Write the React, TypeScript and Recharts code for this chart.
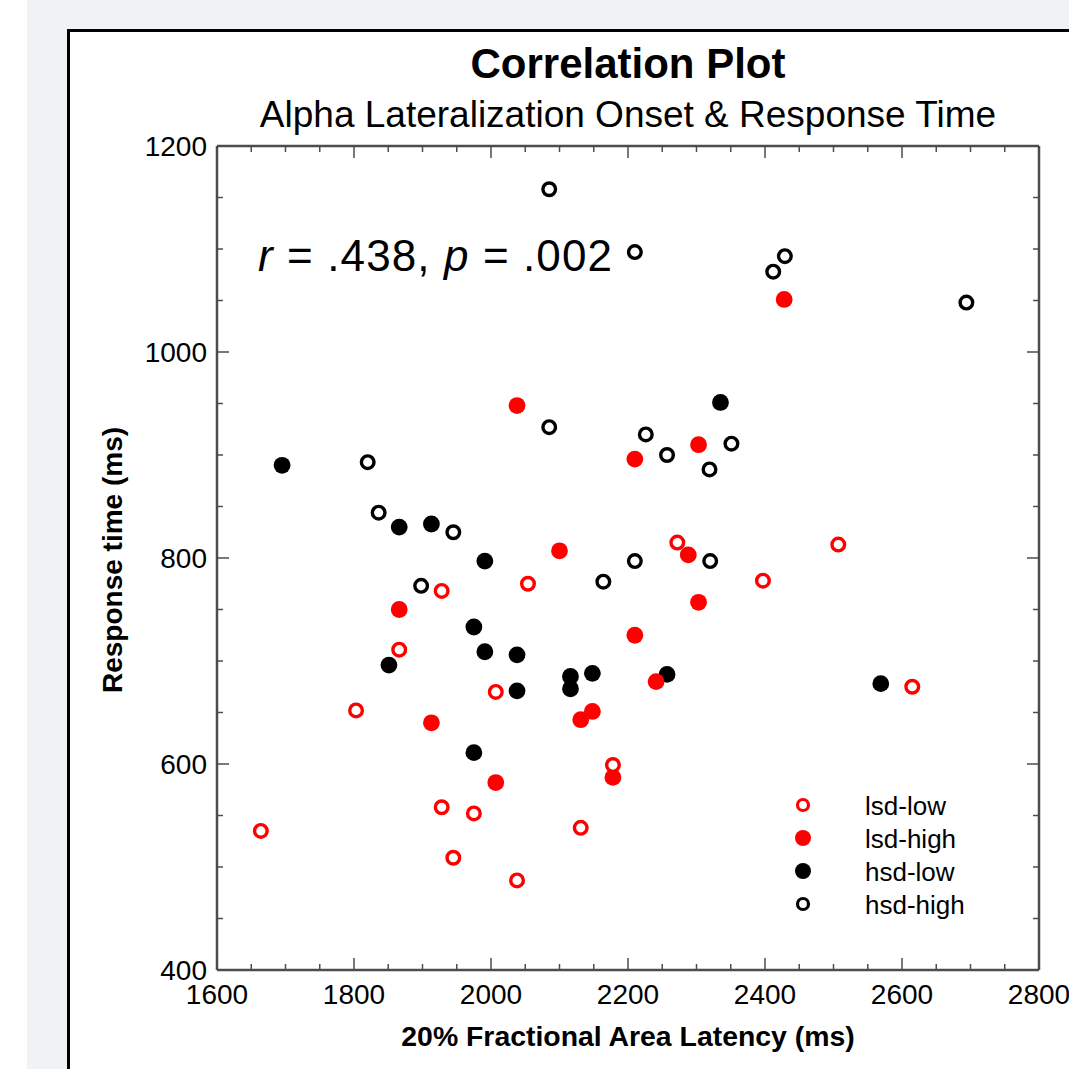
import React from "react";
import { ScatterChart, Scatter, XAxis, YAxis, Legend } from "recharts";

const lsdLow = [
  { x: 1664, y: 535 }, { x: 1803, y: 652 }, { x: 1866, y: 711 }, { x: 1928, y: 768 },
  { x: 1928, y: 558 }, { x: 1945, y: 509 }, { x: 1975, y: 552 }, { x: 2007, y: 670 },
  { x: 2038, y: 487 }, { x: 2054, y: 775 }, { x: 2131, y: 538 }, { x: 2178, y: 599 },
  { x: 2272, y: 815 }, { x: 2397, y: 778 }, { x: 2507, y: 813 }, { x: 2615, y: 675 },
];
const lsdHigh = [
  { x: 2428, y: 1051 }, { x: 2038, y: 948 }, { x: 2210, y: 896 }, { x: 2303, y: 910 },
  { x: 2100, y: 807 }, { x: 2288, y: 803 }, { x: 2303, y: 757 }, { x: 1866, y: 750 },
  { x: 2210, y: 725 }, { x: 2241, y: 680 }, { x: 1913, y: 640 }, { x: 2131, y: 643 },
  { x: 2148, y: 651 }, { x: 2007, y: 582 }, { x: 2178, y: 587 },
];
const hsdLow = [
  { x: 1695, y: 890 }, { x: 1866, y: 830 }, { x: 1913, y: 833 }, { x: 2335, y: 951 },
  { x: 1991, y: 797 }, { x: 1975, y: 733 }, { x: 1991, y: 709 }, { x: 2038, y: 706 },
  { x: 1851, y: 696 }, { x: 2116, y: 685 }, { x: 2116, y: 673 }, { x: 2148, y: 688 },
  { x: 2038, y: 671 }, { x: 2257, y: 687 }, { x: 1975, y: 611 }, { x: 2569, y: 678 },
];
const hsdHigh = [
  { x: 2085, y: 1158 }, { x: 2210, y: 1097 }, { x: 2412, y: 1078 }, { x: 2429, y: 1093 },
  { x: 2694, y: 1048 }, { x: 2085, y: 927 }, { x: 2226, y: 920 }, { x: 2257, y: 900 },
  { x: 2351, y: 911 }, { x: 2319, y: 886 }, { x: 1820, y: 893 }, { x: 1836, y: 844 },
  { x: 1945, y: 825 }, { x: 1898, y: 773 }, { x: 2164, y: 777 }, { x: 2210, y: 797 },
  { x: 2320, y: 797 },
];

const xTicks = [1600, 1650, 1700, 1750, 1800, 1850, 1900, 1950, 2000, 2050, 2100, 2150, 2200,
  2250, 2300, 2350, 2400, 2450, 2500, 2550, 2600, 2650, 2700, 2750, 2800];
const yTicks = [400, 450, 500, 550, 600, 650, 700, 750, 800, 850, 900, 950, 1000, 1050, 1100, 1150, 1200];
const xMajor = [1600, 1800, 2000, 2200, 2400, 2600, 2800];
const yMajor = [400, 600, 800, 1000, 1200];

const legendOrder = [
  { name: "lsd-low", color: "#ff0000", open: true },
  { name: "lsd-high", color: "#ff0000", open: false },
  { name: "hsd-low", color: "#000000", open: false },
  { name: "hsd-high", color: "#000000", open: true },
];

const FONT = "'Liberation Sans', Arial, sans-serif";
const FRAME = "#4d4d4d";

const openShape = (color: string) => (p: any) =>
  <circle cx={p.cx} cy={p.cy} r={6.3} fill="#ffffff" stroke={color} strokeWidth={3.4} />;
const filledShape = (color: string) => (p: any) =>
  <circle cx={p.cx} cy={p.cy} r={8.4} fill={color} />;

const BottomTick = (p: any) => {
  const v = p.payload.value;
  const major = xMajor.includes(v);
  return (
    <g>
      <line x1={p.x} y1={p.y} x2={p.x} y2={p.y - (major ? 12 : 6)} stroke={FRAME} strokeWidth={1.5} />
      {major && (
        <text x={p.x} y={p.y + 34} textAnchor="middle" fontSize={28} fontFamily={FONT} fill="#000">{v}</text>
      )}
    </g>
  );
};
const TopTick = (p: any) => {
  const major = xMajor.includes(p.payload.value);
  return <line x1={p.x} y1={p.y} x2={p.x} y2={p.y + (major ? 12 : 6)} stroke={FRAME} strokeWidth={1.5} />;
};
const LeftTick = (p: any) => {
  const v = p.payload.value;
  const major = yMajor.includes(v);
  return (
    <g>
      <line x1={p.x} y1={p.y} x2={p.x + (major ? 12 : 6)} y2={p.y} stroke={FRAME} strokeWidth={1.5} />
      {major && (
        <text x={p.x - 10} y={p.y + 10} textAnchor="end" fontSize={28} fontFamily={FONT} fill="#000">{v}</text>
      )}
    </g>
  );
};
const RightTick = (p: any) => {
  const major = yMajor.includes(p.payload.value);
  return <line x1={p.x} y1={p.y} x2={p.x - (major ? 12 : 6)} y2={p.y} stroke={FRAME} strokeWidth={1.5} />;
};

const LegendContent = () => (
  <svg width={220} height={140} style={{ display: "block" }}>
    {legendOrder.map((s, i) => {
      const cy = 17 + i * 33;
      return (
        <g key={s.name}>
          {s.open ? (
            <circle cx={13} cy={cy} r={5.5} fill="#fff" stroke={s.color} strokeWidth={3.2} />
          ) : (
            <circle cx={13} cy={cy} r={8} fill={s.color} />
          )}
          <text x={75} y={cy + 10} fontSize={26} fontFamily={FONT} fill="#000">{s.name}</text>
        </g>
      );
    })}
  </svg>
);

export default function App() {
  return (
    <div style={{ position: "absolute", left: 0, top: 0, width: 1069, height: 1069, background: "#ffffff", overflow: "hidden" }}>
      <div style={{ position: "absolute", left: 27, top: 0, width: 1042, height: 1069, background: "#f1f2f4" }} />
      <div style={{ position: "absolute", left: 67, top: 29, width: 1100, height: 1100, background: "#ffffff", border: "3px solid #000", boxSizing: "border-box" }} />
      <div style={{ position: "absolute", left: 0, top: 0 }}>
        <ScatterChart width={1069} height={1069} margin={{ top: 145, right: 29, bottom: 39, left: 157 }}>
          <XAxis xAxisId="b" type="number" dataKey="x" domain={[1600, 2800]} ticks={xTicks} interval={0}
            tickSize={0} tickMargin={0} height={60} allowDataOverflow
            axisLine={{ stroke: FRAME, strokeWidth: 2.5 }} tickLine={false} tick={BottomTick} />
          <XAxis xAxisId="t" orientation="top" type="number" dataKey="x" domain={[1600, 2800]} ticks={xTicks} interval={0}
            tickSize={0} tickMargin={0} height={1} allowDataOverflow
            axisLine={{ stroke: FRAME, strokeWidth: 2.5 }} tickLine={false} tick={TopTick} />
          <YAxis yAxisId="l" type="number" dataKey="y" domain={[400, 1200]} ticks={yTicks} interval={0}
            tickSize={0} tickMargin={0} width={60} allowDataOverflow
            axisLine={{ stroke: FRAME, strokeWidth: 2.5 }} tickLine={false} tick={LeftTick} />
          <YAxis yAxisId="r" orientation="right" type="number" dataKey="y" domain={[400, 1200]} ticks={yTicks} interval={0}
            tickSize={0} tickMargin={0} width={1} allowDataOverflow
            axisLine={{ stroke: FRAME, strokeWidth: 2.5 }} tickLine={false} tick={RightTick} />
          <Scatter name="frame" data={hsdHigh} xAxisId="t" yAxisId="r" shape={(p: any) => <circle cx={p.cx} cy={p.cy} r={0} fill="none" />} legendType="none" isAnimationActive={false} />
          <Scatter name="hsd-low" data={hsdLow} xAxisId="b" yAxisId="l" shape={filledShape("#000000")} isAnimationActive={false} />
          <Scatter name="lsd-high" data={lsdHigh} xAxisId="b" yAxisId="l" shape={filledShape("#ff0000")} isAnimationActive={false} />
          <Scatter name="lsd-low" data={lsdLow} xAxisId="b" yAxisId="l" shape={openShape("#ff0000")} isAnimationActive={false} />
          <Scatter name="hsd-high" data={hsdHigh} xAxisId="b" yAxisId="l" shape={openShape("#000000")} isAnimationActive={false} />
          <Legend layout="vertical" align="center" verticalAlign="middle" content={LegendContent}
            wrapperStyle={{ position: "absolute", left: 790, top: 788, width: 220, height: 140 }} />
        </ScatterChart>
      </div>
      <svg width={1069} height={1069} style={{ position: "absolute", left: 0, top: 0, pointerEvents: "none" }}>
        <text x={628} y={78} textAnchor="middle" fontSize={42} fontWeight="bold" fontFamily={FONT} fill="#000">Correlation Plot</text>
        <text x={628} y={127} textAnchor="middle" fontSize={37} fontFamily={FONT} fill="#000">Alpha Lateralization Onset &amp; Response Time</text>
        <text x={258} y={271} fontSize={44} fontFamily={FONT} fill="#000" textLength={354} lengthAdjust="spacing">
          <tspan fontStyle="italic">r</tspan> = .438, <tspan fontStyle="italic">p</tspan> = .002
        </text>
        <text transform="translate(122,560) rotate(-90)" textAnchor="middle" fontSize={28} fontWeight="bold" fontFamily={FONT} fill="#000">Response time (ms)</text>
        <text x={628} y={1046} textAnchor="middle" fontSize={28.4} fontWeight="bold" fontFamily={FONT} fill="#000">20% Fractional Area Latency (ms)</text>
      </svg>
    </div>
  );
}
